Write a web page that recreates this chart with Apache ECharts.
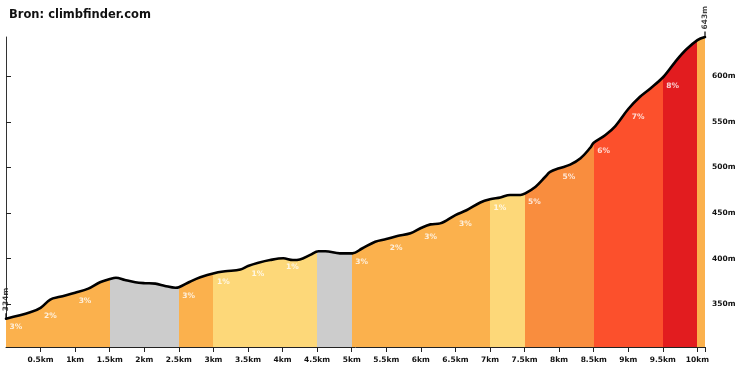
<!DOCTYPE html>
<html>
<head>
<meta charset="utf-8">
<script src="https://cdn.jsdelivr.net/npm/echarts@6/dist/echarts.min.js"></script>
<style>
html,body{margin:0;padding:0;background:#fff;}
#chart{width:740px;height:370px;}
</style>
</head>
<body>
<div id="chart"></div>
<script>
// ---- data ----
var title = 'Bron: climbfinder.com';
// profile: distance (km) and elevation (m)
var distances = [0, 0.35, 0.5, 0.64, 0.78, 1.0, 1.19, 1.36, 1.5, 1.59, 1.72, 1.87, 2.01, 2.16, 2.3, 2.45, 2.5, 2.66, 2.81, 3.01, 3.17, 3.39, 3.5, 3.65, 3.82, 4.01, 4.15, 4.25, 4.4, 4.52, 4.62, 4.83, 5.01, 5.15, 5.34, 5.5, 5.66, 5.85, 6.01, 6.14, 6.28, 6.5, 6.66, 6.86, 7.0, 7.15, 7.29, 7.44, 7.51, 7.66, 7.8, 7.87, 8.0, 8.16, 8.31, 8.45, 8.5, 8.67, 8.81, 9.0, 9.17, 9.32, 9.51, 9.68, 9.83, 10.0, 10.11];
var elevations = [334, 341, 346, 355, 358, 362.5, 367, 374, 377.5, 379, 376.5, 374, 373, 372.5, 370, 368, 368.5, 374.6, 379.5, 384, 386, 388, 391.8, 395.4, 398.4, 400.3, 398.4, 399, 404, 408, 408, 405.7, 405.7, 411, 418.5, 421.4, 424.7, 427.7, 433.8, 437.5, 438.6, 447.7, 453, 461.5, 465, 467, 469.7, 469.7, 471.5, 478.8, 489.7, 495, 499, 503, 510, 521.5, 527, 535.5, 545, 564, 577.4, 586.6, 599.4, 615.8, 628.7, 639.6, 643];
// segment boundaries (km) and gradients (%); negative = descent (grey, no label)
var segmentBounds = [0, 0.5, 1, 1.5, 2, 2.5, 3, 3.5, 4, 4.5, 5, 5.5, 6, 6.5, 7, 7.5, 8, 8.5, 9, 9.5, 10, 10.11];
var segmentGrades = [3, 2, 3, -1, -1, 3, 1, 1, 1, -1, 3, 2, 3, 3, 1, 5, 5, 6, 7, 8, 3];
var segmentLabelled = [1, 1, 1, 0, 0, 1, 1, 1, 1, 0, 1, 1, 1, 1, 1, 1, 1, 1, 1, 1, 0];
// axis ticks
var xTickValues = [0.5, 1, 1.5, 2, 2.5, 3, 3.5, 4, 4.5, 5, 5.5, 6, 6.5, 7, 7.5, 8, 8.5, 9, 9.5, 10];
var yTickValues = [350, 400, 450, 500, 550, 600];
var yMin = 303;

// ---- helpers ----
function gradeColor(g) {
  if (g <= 0) return '#CCCCCC';
  if (g < 2) return '#FDD879';
  if (g < 4) return '#FBB14D';
  if (g < 6) return '#F98D3E';
  if (g < 8) return '#FC502C';
  return '#E21C1F';
}
function elevAt(d) {
  for (var i = 0; i < distances.length - 1; i++) {
    if (d >= distances[i] && d <= distances[i + 1]) {
      var t = (d - distances[i]) / (distances[i + 1] - distances[i]);
      return elevations[i] + t * (elevations[i + 1] - elevations[i]);
    }
  }
  return elevations[elevations.length - 1];
}
var xMax = distances[distances.length - 1];
var yMax = elevations[elevations.length - 1];

var profile = distances.map(function (d, i) { return [d, elevations[i]]; });
var pieces = [];
for (var i = 0; i < segmentGrades.length; i++) {
  var p = { gte: segmentBounds[i], color: gradeColor(segmentGrades[i]) };
  if (i === segmentGrades.length - 1) p.lte = segmentBounds[i + 1] + 1; else p.lt = segmentBounds[i + 1];
  pieces.push(p);
}
var gradeLabels = [];
for (var j = 0; j < segmentGrades.length; j++) {
  if (segmentLabelled[j]) gradeLabels.push([segmentBounds[j], elevAt(segmentBounds[j]), segmentGrades[j] + '%']);
}
var endMarks = [[distances[0], elevations[0]], [xMax, yMax]];

var FONT = 'DejaVu Sans';
var chart = echarts.init(document.getElementById('chart'), null, { renderer: 'canvas' });
chart.setOption({
  animation: false,
  backgroundColor: '#ffffff',
  title: {
    text: title, left: 4, top: 4,
    textStyle: { fontFamily: FONT, fontSize: 11.5, fontWeight: 'bold', color: '#111' }
  },
  grid: { left: 6, right: 35, top: 37, bottom: 23 },
  xAxis: {
    type: 'value', min: 0, max: xMax,
    axisLine: { show: true, lineStyle: { color: '#222', width: 1 } },
    axisTick: { show: true, length: 5, lineStyle: { color: '#222', width: 1 }, customValues: xTickValues.concat([xMax]) },
    axisLabel: {
      customValues: xTickValues, margin: 9,
      fontFamily: FONT, fontSize: 7.5, fontWeight: 'bold', color: '#111',
      formatter: function (v) { return v + 'km'; }
    },
    splitLine: { show: false }
  },
  yAxis: {
    type: 'value', position: 'right', min: yMin, max: yMax,
    axisLine: { show: true, lineStyle: { color: '#333', width: 1 } },
    axisTick: { show: true, length: 5, lineStyle: { color: '#222', width: 1 }, customValues: yTickValues },
    axisLabel: {
      customValues: yTickValues, margin: 7,
      fontFamily: FONT, fontSize: 7.5, fontWeight: 'bold', color: '#111',
      formatter: function (v) { return v + 'm'; }
    },
    splitLine: { show: false }
  },
  visualMap: {
    show: false, type: 'piecewise', dimension: 0, seriesIndex: 0,
    pieces: pieces
  },
  series: [
    {
      type: 'line', data: profile, smooth: 0.35, symbol: 'none', silent: true,
      lineStyle: { color: '#000', width: 2.6, cap: 'round', join: 'round' },
      areaStyle: { opacity: 1 },
      z: 2
    },
    {
      type: 'scatter', data: gradeLabels, symbolSize: 1, silent: true,
      itemStyle: { color: 'transparent' },
      label: {
        show: true, position: [4, 9], align: 'left', verticalAlign: 'middle',
        fontFamily: FONT, fontSize: 7.5, fontWeight: 'bold', color: '#fff',
        formatter: function (p) { return p.data[2]; }
      },
      z: 5
    },
    {
      type: 'scatter', data: endMarks, symbol: 'rect', symbolSize: [1.5, 5], symbolOffset: [0, -3], silent: true,
      itemStyle: { color: '#000' },
      label: {
        show: true, position: 'top', distance: 2, rotate: 90, align: 'left', verticalAlign: 'middle',
        fontFamily: FONT, fontSize: 7.5, fontWeight: 'bold', color: '#111',
        formatter: function (p) { return Math.round(p.data[1]) + 'm'; }
      },
      z: 6
    }
  ]
});
</script>
</body>
</html>
